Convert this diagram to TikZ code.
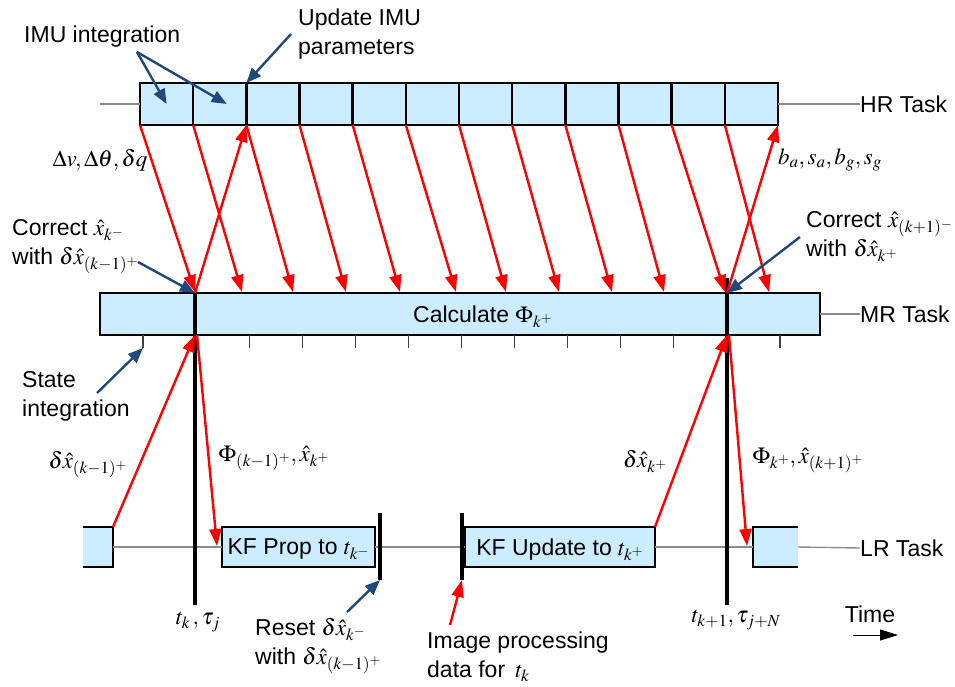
\documentclass[tikz,border=0pt]{standalone}
\usepackage{mathptmx}
\usepackage[no-math]{fontspec}
\setmainfont{Liberation Sans}
\usetikzlibrary{arrows.meta}

\definecolor{taskfill}{RGB}{204,236,255}
\definecolor{noteblue}{RGB}{31,73,125}

\tikzset{
  cell/.style={draw=black, line width=2.6pt, fill=taskfill, inner sep=0pt, outer sep=0pt,
    minimum height=42pt, text depth=0pt, font=\fontsize{23}{29}\selectfont},
  taskline/.style={draw=black!45, line width=1.4pt},
  tmark/.style={line width=3.8pt},
  flow/.style={draw=red, line width=2.4pt, -{Triangle[length=17pt,width=12pt]}},
  hint/.style={draw=noteblue, line width=2.4pt, -{Triangle[length=15pt,width=12pt]}},
  lbl/.style={font=\fontsize{23}{29}\selectfont, inner sep=0pt, align=left},
}

\begin{document}
\begin{tikzpicture}[x=1pt, y=-1pt]
  \useasboundingbox (0,0) rectangle (955,686);

  % HR task: the IMU slots
  \foreach \i in {1,...,12}
    \node[cell, minimum width=53.17pt] (hr\i) at ({140+53.17*(\i-0.5)},104) {};
  \node[lbl, anchor=west] (hrlab) at (860,104) {HR Task};
  \coordinate (hrin) at (100,104);
  \draw[taskline] (hrin) -- (hr1.west);
  \draw[taskline] (hr12.east) -- (hrlab.west);

  % MR task
  \node[cell, minimum width=720pt] (mr) at (460,314) {};
  \node[lbl, anchor=base west] (mrtxt) at (413,322) {Calculate $\Phi_{k^+}$};
  \node[lbl, anchor=west] (mrlab) at (860,314) {MR Task};
  \draw[taskline] (mr.east) -- (mrlab.west);
  \foreach \i in {0,...,12}
    \coordinate (tick\i) at ({143+53.08*\i},348);
  \foreach \i in {0,...,12}
    \draw[line width=1.2pt, black!75] (tick\i) -- ++(0,-13);

  % LR task
  \node[cell, draw=none, minimum width=30pt, minimum height=40pt] (lrprev) at (98,547) {};
  \node[cell, minimum width=153pt, minimum height=40pt] (prop) at (298.5,547) {KF Prop to $t_{k^-}$};
  \node[cell, minimum width=190pt, minimum height=40pt] (upd) at (560,547) {KF Update to $t_{k^+}$};
  \node[cell, draw=none, minimum width=45pt, minimum height=40pt] (lrnext) at (775.5,547) {};
  \node[lbl, anchor=west] (lrlab) at (860,548) {LR Task};
  \draw[line width=2.6pt] (lrprev.north west) -- (lrprev.north east) -- (lrprev.south east) -- (lrprev.south west);
  \draw[line width=2.6pt] (lrnext.north east) -- (lrnext.north west) -- (lrnext.south west) -- (lrnext.south east);
  \draw[taskline] (lrprev.east) -- (prop.west);
  \draw[taskline] (prop.east) -- (upd.west);
  \draw[taskline] (upd.east) -- (lrnext.west);
  \draw[taskline] (lrnext.east) -- (lrlab.west);

  % epoch lines
  \coordinate (tk) at (195,293);
  \coordinate (tkb) at (195,605);
  \coordinate (tn) at (727,278);
  \coordinate (tnb) at (727,605);
  \draw[tmark] (tk) -- (tkb);
  \draw[tmark] (tn) -- (tnb);
  \coordinate (rst) at (380,513);
  \coordinate (rstb) at (380,580);
  \coordinate (img) at (462,513);
  \coordinate (imgb) at (462,580);
  \draw[tmark] (rst) -- (rstb);
  \draw[tmark] (img) -- (imgb);
  \node[lbl] (tklab) at (198,622) {$t_k\,,\tau_j$};
  \node[lbl] (tnlab) at (736,620) {$t_{k+1},\tau_{j+N}$};

  % HR <-> MR
  \foreach \i/\tx in {1/195,2/242,3/293,4/346,5/400,6/456,7/506,8/559,9/612,10/664,11/725,12/769} {
    \coordinate (in\i) at (\tx,292);
    \draw[flow] (hr\i.south west) -- (in\i);
  }
  \draw[flow] (tk) -- (hr3.south west);
  \draw[flow] (tn |- tk) -- (hr12.south east);
  \node[lbl] (dvlab) at (100,160) {$\Delta v,\Delta\theta,\delta q$};
  \node[lbl] (bslab) at (830,160) {$b_a,s_a,b_g,s_g$};

  % MR <-> LR
  \coordinate (tkdown) at (197,335);
  \coordinate (tndown) at (729,335);
  \coordinate (propin) at (217,546);
  \coordinate (nextin) at (747,546);
  \draw[flow] (lrprev.north east) -- (tk |- mr.south);
  \draw[flow] (tkdown) -- (propin);
  \draw[flow] (upd.north east) -- (tn |- mr.south);
  \draw[flow] (tndown) -- (nextin);
  \node[lbl] (dxprev) at (88,465) {$\delta\hat{x}_{(k-1)^+}$};
  \node[lbl] (philab) at (274,458) {$\Phi_{(k-1)^+},\hat{x}_{k^+}$};
  \node[lbl] (dxk) at (645,462) {$\delta\hat{x}_{k^+}$};
  \node[lbl] (phinext) at (808,460) {$\Phi_{k^+},\hat{x}_{(k+1)^+}$};

  % notes
  \node[lbl, anchor=west] (imulab) at (24,37) {IMU integration};
  \coordinate (imufoot) at (137,52);
  \draw[hint] (imufoot) -- (hr1.center);
  \draw[hint] (imufoot) -- ([xshift=7pt]hr2.center);
  \node[lbl, anchor=west] (updlab) at (298,34) {Update IMU\\parameters};
  \draw[hint] ([xshift=-7pt]updlab.west) -- (hr3.north west);
  \node[lbl, anchor=west] (corlab) at (12,247) {Correct $\hat{x}_{k^-}$\\with $\delta\hat{x}_{(k-1)^+}$};
  \coordinate (corfoot) at (138,262);
  \draw[hint] (corfoot) -- (tk);
  \node[lbl, anchor=west] (cornext) at (806,237) {Correct $\hat{x}_{(k+1)^-}$\\with $\delta\hat{x}_{k^+}$};
  \draw[hint] ([xshift=-6pt]cornext.west) -- (tn |- tk);
  \node[lbl, anchor=west] (statelab) at (22,396) {State\\integration};
  \coordinate (statefoot) at (97,393);
  \draw[hint] (statefoot) -- (tick0);
  \node[lbl, anchor=west] (resetlab) at (255,646) {Reset $\delta\hat{x}_{k^-}$\\with $\delta\hat{x}_{(k-1)^+}$};
  \coordinate (resetfoot) at (347,612);
  \draw[hint] (resetfoot) -- (rstb);
  \node[lbl, anchor=west] (imglab) at (427,657) {Image processing\\data for \,$t_k$};
  \coordinate (imgfoot) at (450,625);
  \draw[flow] (imgfoot) -- (imgb);

  % time axis
  \node[lbl] (timelab) at (870,614) {Time};
  \coordinate (tstart) at (853,635);
  \coordinate (tend) at (898,635);
  \draw[line width=1pt, -{Triangle[length=18pt,width=11pt]}] (tstart) -- (tend);
\end{tikzpicture}
\end{document}
